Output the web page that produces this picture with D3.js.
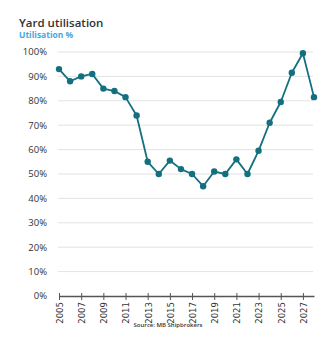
<!DOCTYPE html>
<html><head><meta charset="utf-8">
<script src="https://cdn.jsdelivr.net/npm/d3@7"></script>
<style>body{margin:0;background:#fff;}svg{display:block;}</style>
</head><body>
<script>
const years = [2005,2006,2007,2008,2009,2010,2011,2012,2013,2014,2015,2016,2017,2018,2019,2020,2021,2022,2023,2024,2025,2026,2027,2028];
const utilisation = [93,88,90,91,85,84,81.5,74,55,50,55.5,52,50,45,51,50,56,50,59.5,71,79.5,91.5,99.5,81.5];
const yTicks = [0,10,20,30,40,50,60,70,80,90,100];
const xTicks = [2005,2007,2009,2011,2013,2015,2017,2019,2021,2023,2025,2027];

const W=333,H=342;
const svg=d3.select("body").append("svg").attr("width",W).attr("height",H);
const x=d3.scaleLinear().domain([2005,2028]).range([59,314]);
const y=d3.scaleLinear().domain([0,100]).range([296,52]);
const font="'Open Sans', sans-serif";

svg.append("text").attr("x",19).attr("y",26.5).attr("font-family",font).attr("font-weight",600)
  .attr("font-size",11.5).attr("fill","#333").text("Yard utilisation");
svg.append("text").attr("x",19).attr("y",37.5).attr("font-family",font).attr("font-weight",700)
  .attr("font-size",8.5).attr("fill","#49a6dc").text("Utilisation %");

// gridlines
svg.append("g").selectAll("line").data(yTicks.filter(d=>d>0)).join("line")
  .attr("x1",58).attr("x2",313).attr("y1",d=>y(d)).attr("y2",d=>y(d))
  .attr("stroke","#e3e3e3").attr("stroke-width",1);

// y labels
svg.append("g").selectAll("text").data(yTicks).join("text")
  .attr("x",47).attr("y",d=>y(d)).attr("dy","0.35em").attr("text-anchor","end")
  .attr("font-family",font).attr("font-size",9.5).attr("fill","#333").text(d=>d+"%");

// x axis
const xa=svg.append("g").attr("transform","translate(0,296)")
  .call(d3.axisBottom(x).tickValues(xTicks).tickFormat(d3.format("d")).tickSize(4).tickSizeOuter(0));
xa.select(".domain").attr("stroke","#555").attr("stroke-width",1.3);
xa.selectAll(".tick line").attr("stroke","#555").attr("y1",-3).attr("y2",4);
xa.selectAll(".tick text").attr("font-family","'Liberation Sans Narrow', 'DejaVu Sans Condensed', sans-serif")
  .attr("font-size",9.5).attr("fill","#333")
  .attr("transform","rotate(-90)").attr("text-anchor","end").attr("x",-6).attr("y",0).attr("dy","0.35em");

// line
const line=d3.line().x((d,i)=>x(years[i])).y(d=>y(d));
svg.append("path").datum(utilisation).attr("d",line).attr("fill","none")
  .attr("stroke","#13707f").attr("stroke-width",1.8).attr("stroke-linejoin","round");
svg.append("g").selectAll("circle").data(utilisation).join("circle")
  .attr("cx",(d,i)=>x(years[i])).attr("cy",d=>y(d)).attr("r",3.2).attr("fill","#13707f");

svg.append("text").attr("x",168).attr("y",327).attr("text-anchor","middle")
  .attr("font-family",font).attr("font-weight",600).attr("font-size",6).attr("fill","#333")
  .text("Source: MB Shipbrokers");
</script>
</body></html>
